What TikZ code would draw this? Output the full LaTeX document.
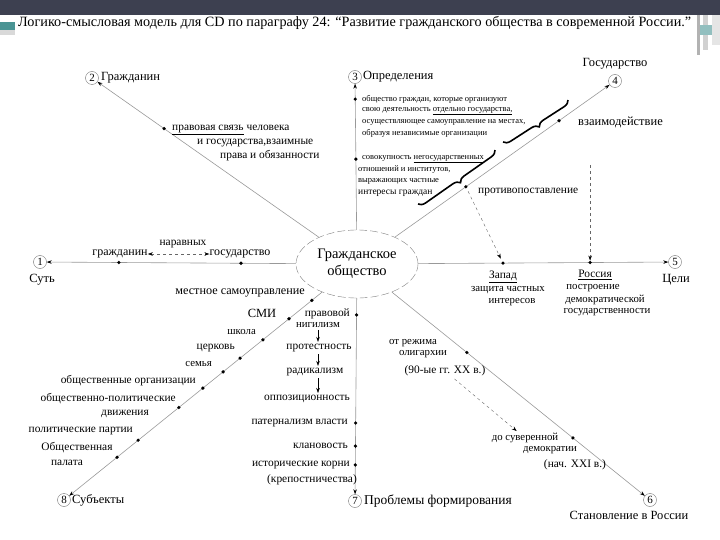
\documentclass[tikz,border=0pt]{standalone}
\usepackage{fontspec}
\setmainfont{Liberation Serif}
\usetikzlibrary{calc,shapes.geometric,arrows.meta,decorations.pathreplacing}

\definecolor{slate}{HTML}{3D4050}
\definecolor{slideteal}{HTML}{4A9494}

\tikzset{
  spoke/.style={draw=black!40, line width=0.6pt},
  dot/.style={circle, fill=black, inner sep=0pt, minimum size=3.6pt},
  num/.style={circle, draw=black!55, inner sep=0.5pt, minimum size=13pt, font=\fontsize{11}{11}\selectfont},
  lbl/.style={inner sep=0pt, font=\fontsize{12.5}{13}\selectfont},
  sml/.style={inner sep=0pt, font=\fontsize{11.4}{12}\selectfont},
  mid/.style={inner sep=0pt, font=\fontsize{10.8}{11}\selectfont},
  note/.style={inner sep=0pt, font=\fontsize{8.5}{9}\selectfont},
  curly/.style={decorate, decoration={brace, mirror, amplitude=7pt}, line width=1.6pt},
}

\begin{document}
\begin{tikzpicture}[x=1pt, y=-1pt, >={Stealth[length=5pt, width=3.5pt, color=black]}]
  \useasboundingbox (0,0) rectangle (720,540);
  % 1. рамка слайда
  \fill[slate] (0,0) rectangle (720,15);
  \fill[slideteal] (0,22) rectangle (15,30);
  \fill[black!15] (0,30) rectangle (15,35);
  \fill[black!30] (697,15) rectangle (700,55);
  \fill[black!18] (703,15) rectangle (708,50);
  \fill[slideteal!60] (700,25) rectangle (712,35);
  \fill[black!10] (712,15) rectangle (720,45);

  % 2. заголовок
  \node[anchor=west, inner sep=0pt, font=\fontsize{14.2}{15}\selectfont] (title) at (18,23)
    {Логико-смысловая модель для CD по параграфу 24: “Развитие гражданского общества в современной России.”};

  % 3. центр и номера
  \node[ellipse, draw=black!50, dash pattern=on 8pt off 3pt, minimum width=122pt, minimum height=68pt,
        align=center, font=\fontsize{14.5}{17}\selectfont] (soc) at (357,264) {Гражданское\\общество};

  \node[num] (n1) at (40,262) {1};
  \node[num] (n2) at (92,78) {2};
  \node[num] (n3) at (355,77) {3};
  \node[num] (n4) at (615,81) {4};
  \node[num] (n5) at (675,262) {5};
  \node[num] (n6) at (650,500) {6};
  \node[num] (n7) at (355,501) {7};
  \node[num] (n8) at (64,500) {8};

  \node[lbl] (t1) at (42,280) {Суть};
  \node[lbl, anchor=west] (t2) at (101,78) {Гражданин};
  \node[lbl, anchor=west] (t3) at (363,77) {Определения};
  \node[lbl] (t4) at (615,64) {Государство};
  \node[lbl] (t5) at (676,280) {Цели};
  \node[lbl] (t6) at (629,515) {Становление в России};
  \node[lbl, anchor=west, font=\fontsize{13.5}{14}\selectfont] (t7) at (364,501) {Проблемы формирования};
  \node[lbl, anchor=west] (t8) at (72,500) {Субъекты};

  % 4. лучи
  \foreach \k in {1,...,8}
    \draw[spoke, ->] (soc) -- (n\k);

  % 5. точки на лучах
  \node[dot] (d1a) at ($(soc)!0.751!(n1)$) {};
  \node[dot] (d1b) at ($(soc)!0.366!(n1)$) {};
  \node[dot] (d2a) at ($(soc)!0.728!(n2)$) {};
  \node[dot] (d3a) at ($(soc)!0.882!(n3)$) {};
  \node[dot] (d3b) at ($(soc)!0.561!(n3)$) {};
  \node[dot] (d4a) at ($(soc)!0.783!(n4)$) {};
  \node[dot] (d4b) at ($(soc)!0.422!(n4)$) {};
  \node[dot] (d5a) at ($(soc)!0.459!(n5)$) {};
  \node[dot] (d5b) at ($(soc)!0.733!(n5)$) {};
  \node[dot] (d6a) at ($(soc)!0.375!(n6)$) {};
  \node[dot] (d6b) at ($(soc)!0.737!(n6)$) {};
  \node[dot] (d7a) at ($(soc)!0.215!(n7)$) {};
  \node[dot] (d7b) at ($(soc)!0.671!(n7)$) {};
  \node[dot] (d7c) at ($(soc)!0.768!(n7)$) {};
  \node[dot] (d7d) at ($(soc)!0.848!(n7)$) {};
  \foreach \p [count=\i] in {0.154,0.232,0.321,0.399,0.457,0.526,0.608,0.747,0.819}
    \node[dot] (d8\i) at ($(soc)!\p!(n8)$) {};

  % 6. суть
  \node[lbl, font=\fontsize{12}{12}\selectfont] (grazh) at (120,254) {гражданин};
  \node[lbl, font=\fontsize{12}{12}\selectfont] (gosud) at (240,254) {государство};
  \node[sml] (ravn) at (183,244) {наравных};
  \draw[<->, dashed, black!60] (grazh) -- (gosud);

  % 7. гражданин
  \node[sml, anchor=west] (pr1) at (172,130) {\underline{правовая связь} человека};
  \node[sml, anchor=west] (pr2) at (197,143) {и государства,взаимные};
  \node[sml, anchor=west] (pr3) at (220,156) {права и обязанности};

  % 8. определения
  \node[note, anchor=west] (df1) at (362,99) {общество граждан, которые организуют};
  \node[note, anchor=west] (df2) at (362,111) {свою деятельность \underline{отдельно государства,}};
  \node[note, anchor=west] (df3) at (362,122) {осуществляющее самоуправление на местах,};
  \node[note, anchor=west] (df4) at (362,133) {образуя независимые организации};
  \node[note, anchor=west] (dg1) at (362,159) {совокупность \underline{негосударственных}};
  \node[note, anchor=west] (dg2) at (358,170) {отношений и институтов,};
  \node[note, anchor=west] (dg3) at (358,181) {выражающих частные};
  \node[note, anchor=west, font=\fontsize{9.5}{10}\selectfont] (dg4) at (358,193) {интересы граждан};
  \draw[curly] (503,142) -- (568,100);
  \draw[curly] (418,204) -- (495,150);

  % 9. государство и цели
  \node[lbl, anchor=west] (vzaim) at (578,122) {взаимодействие};
  \node[sml, anchor=west] (protiv) at (478,192) {противопоставление};
  \coordinate (vztop) at (d5b |- 0,165);
  \draw[dashed, black!60, ->] (vztop) -- (d5b);
  \draw[dashed, black!60, ->, shorten >=3pt, shorten <=3pt] (d4b) -- (d5a);

  \node[sml] (zap1) at (503,277) {\underline{Запад}};
  \node[mid] (zap2) at (508,290) {защита частных};
  \node[mid] (zap3) at (512,302) {интересов};
  \node[sml] (rus1) at (595,275) {\underline{Россия}};
  \node[mid] (rus2) at (593,288) {построение};
  \node[mid] (rus3) at (605,299.5) {демократической};
  \node[mid] (rus4) at (607,312) {государственности};

  % 10. становление
  \node[mid] (st1) at (413,343) {от режима};
  \node[mid] (st2) at (423,354) {олигархии};
  \node[sml] (st3) at (445,371) {(90-ые гг. XX в.)};
  \node[mid] (su1) at (525,438) {до суверенной};
  \node[mid] (su2) at (550,450) {демократии};
  \node[sml] (su3) at (575,465) {(нач. XXI в.)};
  \draw[dashed, black!60, ->, shorten <=4pt, shorten >=3pt] (st3) -- (su1);

  % 11. проблемы
  \node[sml, anchor=east] (pb1) at (350,314) {правовой};
  \node[mid] (pb2) at (318,325) {нигилизм};
  \node[sml] (pb3) at (319,348) {протестность};
  \node[sml] (pb4) at (315,372) {радикализм};
  \node[sml] (pb5) at (307,399) {оппозиционность};
  \draw[->, shorten <=2pt, shorten >=2pt] (pb2) -- (pb2 |- pb3.north);
  \draw[->, shorten <=2pt, shorten >=2pt] (pb3.south -| pb2) -- (pb2 |- pb4.north);
  \draw[->, shorten <=2pt, shorten >=2pt] (pb4.south -| pb2) -- (pb2 |- pb5.north);
  \node[sml, anchor=east] (pb6) at (348,423) {патернализм власти};
  \node[sml, anchor=east] (pb7) at (348,446) {клановость};
  \node[sml, anchor=east] (pb8) at (350,465) {исторические корни};
  \node[sml, anchor=west] (pb9) at (267,480) {(крепостничества)};

  % 12. субъекты
  \node[lbl, anchor=east, font=\fontsize{12.2}{13}\selectfont] (sb1) at (305,293) {местное самоуправление};
  \node[lbl] (sb2) at (262,313) {СМИ};
  \node[mid, anchor=east] (sb3) at (256,332) {школа};
  \node[sml, anchor=east] (sb4) at (235,348) {церковь};
  \node[mid, anchor=east] (sb5) at (212,364) {семья};
  \node[sml, anchor=east] (sb6) at (196,381) {общественные организации};
  \node[sml, anchor=east] (sb7) at (176,399) {общественно-политические};
  \node[sml] (sb8) at (125,414) {движения};
  \node[sml, anchor=east] (sb9) at (133,431) {политические партии};
  \node[sml] (sb10) at (77,448) {Общественная};
  \node[sml] (sb11) at (67,463) {палата};
\end{tikzpicture}
\end{document}
